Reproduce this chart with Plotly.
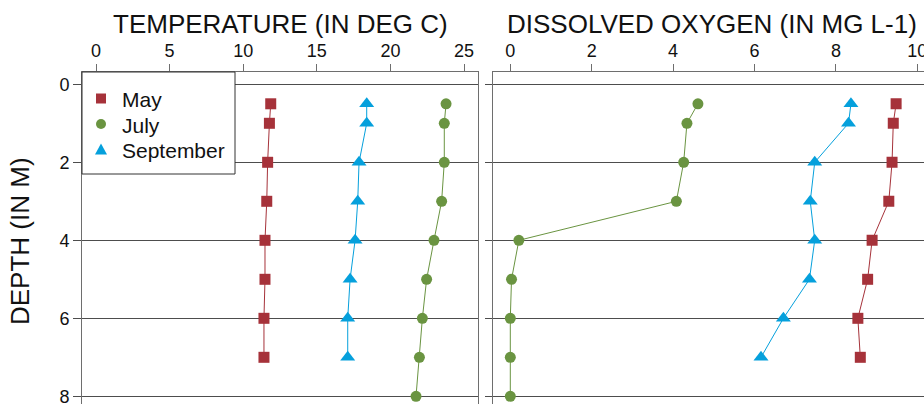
import plotly.graph_objects as go

# Depth profiles (m) and measured values
depth_may = [0.5, 1, 2, 3, 4, 5, 6, 7]
depth_july = [0.5, 1, 2, 3, 4, 5, 6, 7, 8]
depth_sep = [0.5, 1, 2, 3, 4, 5, 6, 7]

temp_may = [11.87, 11.78, 11.66, 11.60, 11.48, 11.48, 11.41, 11.41]
temp_july = [23.78, 23.66, 23.66, 23.48, 22.96, 22.46, 22.17, 21.97, 21.74]
temp_sep = [18.39, 18.39, 17.87, 17.78, 17.60, 17.26, 17.10, 17.10]

do_may = [9.48, 9.41, 9.38, 9.30, 8.89, 8.78, 8.54, 8.60]
do_july = [4.61, 4.34, 4.26, 4.08, 0.21, 0.03, 0.0, 0.0, 0.0]
do_sep = [8.37, 8.31, 7.48, 7.37, 7.48, 7.35, 6.71, 6.16]

temp_ticks = [0, 5, 10, 15, 20, 25]
do_ticks = [0, 2, 4, 6, 8, 10]
depth_ticks = [0, 2, 4, 6, 8]

months = ["May", "July", "September"]

C_MAY = "#a6323a"
C_JULY = "#6a9441"
C_SEP = "#05a0dc"

W, H = 924, 404
ML, MT = 82, 72
PW, PH = W - ML, H - MT


def px_x(p):
    return (p - ML) / PW


def px_y(p):
    return 1 - (p - MT) / PH


FONT = "Liberation Sans, Arial, sans-serif"
GRID = "#4d4d4d"
BOX = "#6e6e6e"
TXT = "#111111"

fig = go.Figure()

series = [
    (months[0], depth_may, temp_may, do_may, C_MAY, "square", 11),
    (months[1], depth_july, temp_july, do_july, C_JULY, "circle", 11),
    (months[2], depth_sep, temp_sep, do_sep, C_SEP, "triangle-up", 13),
]

for name, d, t, o, c, sym, sz in series:
    for xa, vals in (("x", t), ("x2", o)):
        fig.add_trace(go.Scatter(
            x=vals, y=d, mode="lines+markers", name=name, showlegend=False,
            line=dict(color=c, width=1),
            marker=dict(color=c, symbol=sym, size=sz, line=dict(width=0)),
            xaxis=xa, yaxis="y" if xa == "x" else "y2",
        ))

# Legend box drawn as shapes + annotations so the key is compact
shapes = [dict(type="rect", xref="paper", yref="paper",
               x0=px_x(82), x1=px_x(235), y0=px_y(174), y1=px_y(72),
               fillcolor="white", line=dict(color="#333333", width=1),
               layer="above")]
annotations = []
key_x = 101
row_y = [98.5, 124, 149.5]
for (name, d, t, o, c, sym, sz), ry in zip(series, row_y):
    if sym == "square":
        shapes.append(dict(type="rect", xref="paper", yref="paper",
                           x0=px_x(key_x - 5), x1=px_x(key_x + 5),
                           y0=px_y(ry + 5), y1=px_y(ry - 5),
                           fillcolor=c, line=dict(width=0), layer="above"))
    elif sym == "circle":
        shapes.append(dict(type="circle", xref="paper", yref="paper",
                           x0=px_x(key_x - 5), x1=px_x(key_x + 5),
                           y0=px_y(ry + 5), y1=px_y(ry - 5),
                           fillcolor=c, line=dict(width=0), layer="above"))
    else:
        path = "M {} {} L {} {} L {} {} Z".format(
            px_x(key_x - 6), px_y(ry + 5), px_x(key_x + 6), px_y(ry + 5),
            px_x(key_x), px_y(ry - 6))
        shapes.append(dict(type="path", xref="paper", yref="paper", path=path,
                           fillcolor=c, line=dict(width=0), layer="above"))
    annotations.append(dict(
        text=name, xref="paper", yref="paper", x=px_x(120), y=px_y(ry + 1),
        xanchor="left", yanchor="middle", showarrow=False,
        font=dict(family=FONT, size=21, color=TXT)))

annotations += [
    dict(text="TEMPERATURE (IN DEG C)", xref="paper", yref="paper",
         x=px_x(280), y=px_y(24), xanchor="center", yanchor="middle",
         showarrow=False, font=dict(family=FONT, size=26, color=TXT)),
    dict(text="DISSOLVED OXYGEN (IN MG L-1)", xref="paper", yref="paper",
         x=px_x(712), y=px_y(24), xanchor="center", yanchor="middle",
         showarrow=False, font=dict(family=FONT, size=26, color=TXT)),
    dict(text="DEPTH (IN M)", xref="paper", yref="paper",
         x=px_x(20), y=px_y(241), xanchor="center", yanchor="middle",
         textangle=-90,
         showarrow=False, font=dict(family=FONT, size=26, color=TXT)),
]

yrange = [8.197, -0.315]
tickfont = dict(family=FONT, size=18, color=TXT)

fig.update_layout(
    width=W, height=H,
    margin=dict(l=ML, r=0, t=MT, b=0, pad=0, autoexpand=False),
    paper_bgcolor="white", plot_bgcolor="white",
    font=dict(family=FONT, color=TXT),
    showlegend=False,
    xaxis=dict(
        domain=[0, (478 - ML) / PW], anchor="y", side="top",
        range=[-0.951, 25.95], tickvals=temp_ticks,
        showgrid=False, zeroline=False, automargin=False,
        showline=True, linecolor=BOX, linewidth=1,
        ticks="outside", ticklen=7, tickcolor=BOX, tickfont=tickfont,
    ),
    yaxis=dict(
        domain=[0, 1], anchor="x", range=yrange, tickvals=depth_ticks,
        showgrid=True, gridcolor=GRID, gridwidth=1, zeroline=False,
        automargin=False,
        showline=True, mirror=True, linecolor=BOX, linewidth=1,
        ticks="outside", ticklen=8, tickcolor=GRID, tickfont=tickfont,
        ticklabeloverflow="allow",
    ),
    xaxis2=dict(
        domain=[(493.3 - ML) / PW, 1], anchor="y2", side="top",
        range=[-0.418, 10.165], tickvals=do_ticks,
        showgrid=False, zeroline=False, automargin=False,
        showline=True, linecolor=BOX, linewidth=1,
        ticks="outside", ticklen=7, tickcolor=BOX, tickfont=tickfont,
        ticklabeloverflow="allow",
    ),
    yaxis2=dict(
        domain=[0, 1], anchor="x2", range=yrange, tickvals=depth_ticks,
        showticklabels=False, automargin=False,
        showgrid=True, gridcolor=GRID, gridwidth=1, zeroline=False,
        showline=True, linecolor=BOX, linewidth=1,
        ticks="outside", ticklen=7, tickcolor=GRID,
    ),
    shapes=shapes,
    annotations=annotations,
)

fig.write_html("out.html")
